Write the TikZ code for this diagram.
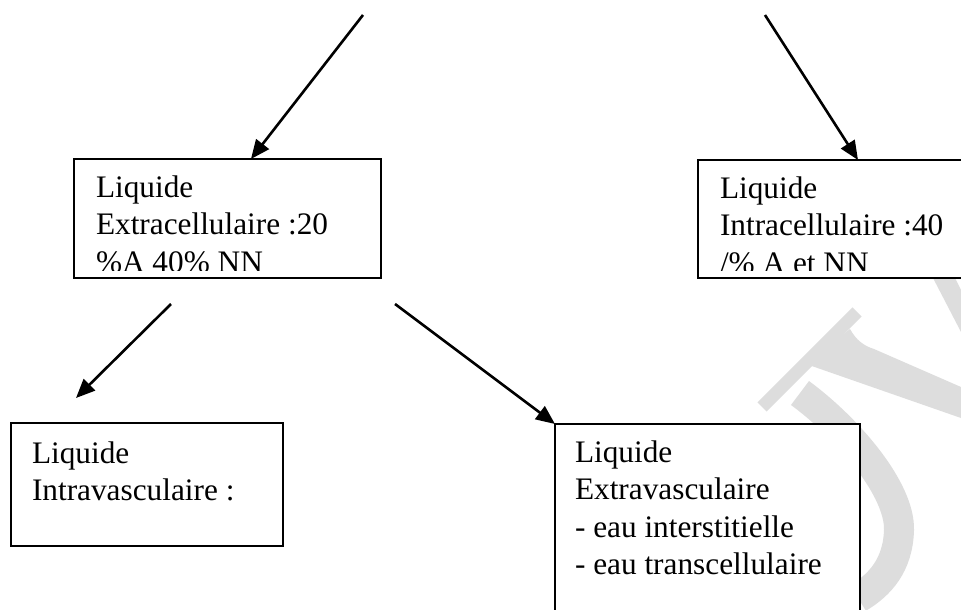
\documentclass[tikz,border=0pt]{standalone}
\usepackage{fontspec}
\setmainfont{Liberation Serif}
\usetikzlibrary{arrows.meta}
\definecolor{wmgray}{RGB}{221,221,221}
\begin{document}
\begin{tikzpicture}[x=1pt,y=-1pt,
  panel/.style={draw=black, line width=1.8pt, fill=white, rectangle,
                inner sep=0pt, outer sep=0pt, anchor=north west},
  boxtext/.style={anchor=base west, inner sep=0pt, outer sep=0pt,
                  font=\fontsize{31.3}{37.6}\selectfont},
  flow/.style={draw=black, line width=2.6pt,
               -{Triangle[length=19pt,width=16pt]}}]
% page
\clip (0,0) rectangle (961,610);
\fill[white] (0,0) rectangle (961,610);

% faint letters in the background
\begin{scope}[wmgray]
  \draw[line width=13pt] (762,407) -- (857,312);
  \fill (806,364) -- (850,329) .. controls (856,340) and (864,346) .. (874,349)
        -- (961,387) -- (961,418) -- cycle;
  \draw[line width=30pt] (800,393) .. controls (850,430) and (900,490) .. (899,530)
        .. controls (898,565) and (880,585) .. (858,598);
  \fill (933,278) -- (955,278) -- (961,290) -- (961,332) -- cycle;
\end{scope}

% boxes
\node[panel, minimum width=307pt, minimum height=119pt] (b1) at (74,159) {};
\node[panel, minimum width=290pt, minimum height=118pt] (b2) at (698,160) {};
\node[panel, minimum width=272pt, minimum height=123pt] (b3) at (11,423) {};
\node[panel, minimum width=305pt, minimum height=200pt] (b4) at (555,424) {};

% box texts
\begin{scope}
  \clip (74,159) rectangle (381,270);
  \node[boxtext] (t1) at (96,197)
    {\begin{tabular}[t]{@{}l@{}}Liquide\\Extracellulaire :20\\\%A 40\% NN\end{tabular}};
\end{scope}
\begin{scope}
  \clip (698,160) rectangle (961,270);
  \node[boxtext] (t2) at (720,198)
    {\begin{tabular}[t]{@{}l@{}}Liquide\\Intracellulaire :40\\/\% A et NN\end{tabular}};
\end{scope}
\node[boxtext] (t3) at (32,463)
  {\begin{tabular}[t]{@{}l@{}}Liquide\\Intravasculaire :\end{tabular}};
\node[boxtext] (t4) at (575,462)
  {\begin{tabular}[t]{@{}l@{}}Liquide\\Extravasculaire\\- eau interstitielle\\- eau transcellulaire\end{tabular}};

% arrows
\coordinate (s1) at (363,15);
\coordinate (s2) at (765,15);
\draw[flow] (s1) -- ([xshift=177pt]b1.north west);
\draw[flow] (s2) -- ([xshift=160pt]b2.north west);
\draw[flow] ([xshift=97pt,yshift=-26pt]b1.south west) -- ([xshift=65pt,yshift=25pt]b3.north west);
\draw[flow] ([xshift=14pt,yshift=-26pt]b1.south east) -- (b4.north west);
\end{tikzpicture}
\end{document}
